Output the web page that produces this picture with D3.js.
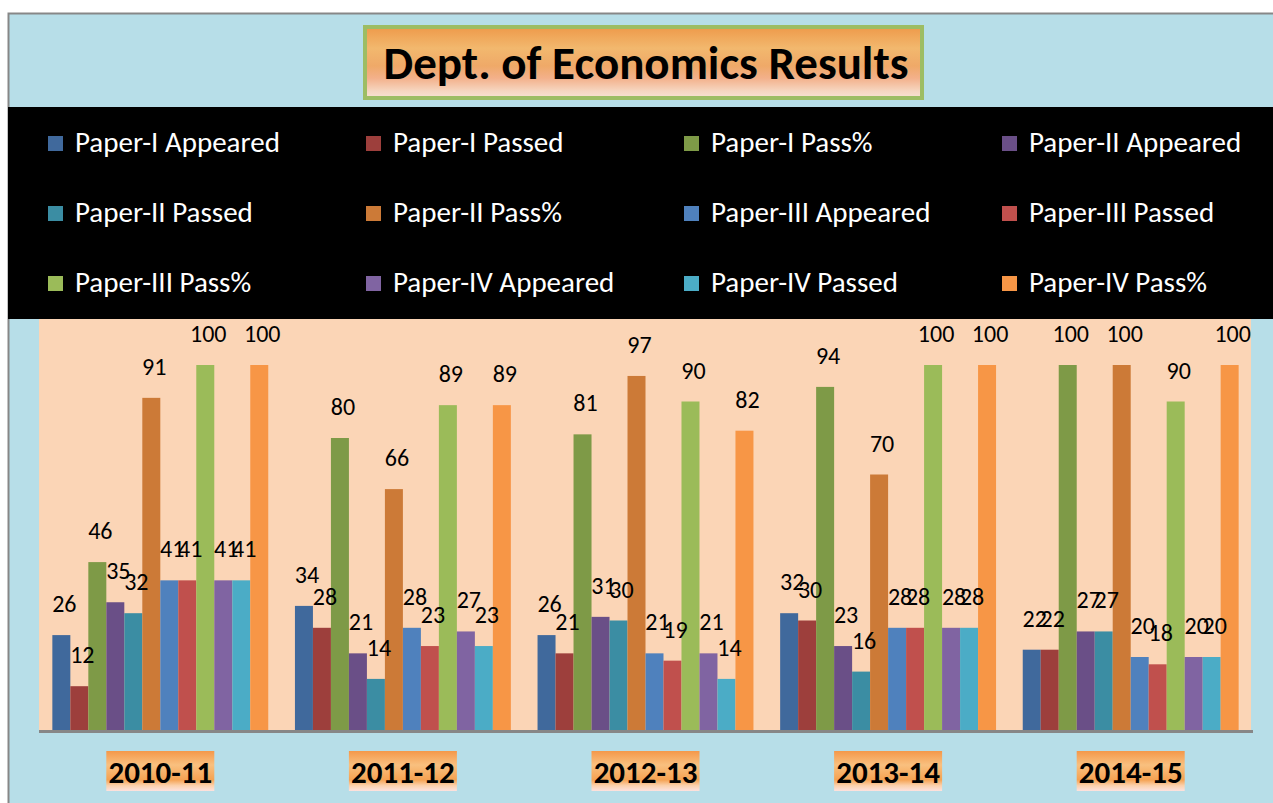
<!DOCTYPE html>
<html>
<head>
<meta charset="utf-8">
<script src="https://cdn.jsdelivr.net/npm/d3@7"></script>
<style>
  html, body { margin: 0; padding: 0; background: #fff; }
  svg { display: block; }
</style>
</head>
<body>
<div id="chart"></div>
<script>
// academic years (x categories)
const years = ['2010-11', '2011-12', '2012-13', '2013-14', '2014-15'];

// series, in legend order
const seriesNames = [
    'Paper-I Appeared', 'Paper-I Passed', 'Paper-I Pass%', 'Paper-II Appeared',
    'Paper-II Passed', 'Paper-II Pass%', 'Paper-III Appeared', 'Paper-III Passed',
    'Paper-III Pass%', 'Paper-IV Appeared', 'Paper-IV Passed', 'Paper-IV Pass%'
];

const paper1Appeared = [26, 34, 26, 32, 22];
const paper1Passed = [12, 28, 21, 30, 22];
const paper1Pct = [46, 80, 81, 94, 100];
const paper2Appeared = [35, 21, 31, 23, 27];
const paper2Passed = [32, 14, 30, 16, 27];
const paper2Pct = [91, 66, 97, 70, 100];
const paper3Appeared = [41, 28, 21, 28, 20];
const paper3Passed = [41, 23, 19, 28, 18];
const paper3Pct = [100, 89, 90, 100, 90];
const paper4Appeared = [41, 27, 21, 28, 20];
const paper4Passed = [41, 23, 14, 28, 20];
const paper4Pct = [100, 89, 82, 100, 100];

const seriesValues = [
    paper1Appeared, paper1Passed, paper1Pct, paper2Appeared,
    paper2Passed, paper2Pct, paper3Appeared, paper3Passed,
    paper3Pct, paper4Appeared, paper4Passed, paper4Pct
];

const colors = [
    '#40699c', '#9d3f3c', '#7e9a47', '#6a4f87', '#3b8da3', '#cc7a37',
    '#4f81bd', '#c0504d', '#9bbb59', '#8064a2', '#4bacc6', '#f79646'
];

const width = 1273;
const height = 803;
const font = 'Carlito, Calibri, Lato, sans-serif';

const svg = d3.select('#chart')
    .append('svg')
    .attr('width', width)
    .attr('height', height);

const defs = svg.append('defs');

/* gradient for the title box */
const titleGrad = defs.append('linearGradient')
    .attr('id', 'titleGrad')
    .attr('x1', 0).attr('y1', 0).attr('x2', 0).attr('y2', 1);
[[0, '#ee9a4a'], [0.3, '#f2b86e'], [0.55, '#efa968'], [0.72, '#f3b08a'], [0.9, '#f6d6c0'], [1, '#f8e2d4']]
    .forEach(s => titleGrad.append('stop').attr('offset', s[0]).attr('stop-color', s[1]));

/* gradient for the category labels */
const catGrad = defs.append('linearGradient')
    .attr('id', 'catGrad')
    .attr('x1', 0).attr('y1', 0).attr('x2', 0).attr('y2', 1);
[[0, '#f4984a'], [0.35, '#f9c07f'], [0.72, '#f5a252'], [0.86, '#fbd0aa'], [1, '#fde2df']]
    .forEach(s => catGrad.append('stop').attr('offset', s[0]).attr('stop-color', s[1]));

/* chart area background + frame */
svg.append('rect')
    .attr('x', 8).attr('y', 13)
    .attr('width', width - 8).attr('height', height - 13)
    .attr('fill', '#b7dee8');
svg.append('path')
    .attr('d', `M8.5,${height}V13.5H${width}`)
    .attr('fill', 'none')
    .attr('stroke', '#878787')
    .attr('stroke-width', 2);

/* plot area */
const plotLeft = 39, plotRight = 1252, plotTop = 319, plotBottom = 730;

svg.append('rect')
    .attr('x', plotLeft).attr('y', plotTop)
    .attr('width', 1251 - plotLeft).attr('height', plotBottom - plotTop)
    .attr('fill', '#fbd5b6');

/* scales */
const x0 = d3.scaleBand()
    .domain(years)
    .range([plotLeft, plotRight])
    .paddingInner(0.11)
    .paddingOuter(0.055);

const x1 = d3.scaleBand()
    .domain(d3.range(seriesNames.length))
    .range([0, x0.bandwidth()]);

const yScale = d3.scaleLinear()
    .domain([0, 100])
    .range([plotBottom, 365]);

/* bars */
const groups = svg.append('g')
    .selectAll('g')
    .data(years)
    .join('g')
    .attr('transform', d => `translate(${x0(d)},0)`);

groups.selectAll('rect')
    .data((d, i) => seriesValues.map((vals, s) => ({ s: s, v: vals[i] })))
    .join('rect')
    .attr('x', d => x1(d.s))
    .attr('y', d => yScale(d.v))
    .attr('width', x1.bandwidth())
    .attr('height', d => yScale(0) - yScale(d.v))
    .attr('fill', d => colors[d.s]);

/* data labels */
groups.selectAll('text')
    .data((d, i) => seriesValues.map((vals, s) => ({ s: s, v: vals[i] })))
    .join('text')
    .attr('x', d => x1(d.s) + x1.bandwidth() / 2 + 3)
    .attr('y', d => yScale(d.v) - 23)
    .attr('text-anchor', 'middle')
    .attr('font-family', font)
    .attr('font-size', 24)
    .attr('fill', '#000')
    .text(d => d.v);

/* x axis line */
svg.append('line')
    .attr('x1', plotLeft).attr('x2', 1253)
    .attr('y1', plotBottom + 1.5).attr('y2', plotBottom + 1.5)
    .attr('stroke', '#878787')
    .attr('stroke-width', 3);

/* category labels with gradient boxes */
const cats = svg.append('g')
    .selectAll('g')
    .data(years)
    .join('g')
    .attr('transform', d => `translate(${x0(d) + x0.bandwidth() / 2},0)`);

cats.append('rect')
    .attr('x', -54).attr('y', 751)
    .attr('width', 108).attr('height', 40)
    .attr('fill', 'url(#catGrad)');

cats.append('text')
    .attr('y', 783)
    .attr('text-anchor', 'middle')
    .attr('font-family', font)
    .attr('font-weight', 'bold')
    .attr('font-size', 31)
    .attr('fill', '#000')
    .text(d => d);

/* legend band */
svg.append('rect')
    .attr('x', 8).attr('y', 107)
    .attr('width', width - 8).attr('height', plotTop - 107)
    .attr('fill', '#000');

const legend = svg.append('g')
    .selectAll('g')
    .data(seriesNames)
    .join('g')
    .attr('transform', (d, i) => `translate(${48 + (i % 4) * 318},${152 + Math.floor(i / 4) * 70})`);

legend.append('rect')
    .attr('x', 0).attr('y', -16)
    .attr('width', 15).attr('height', 15)
    .attr('fill', (d, i) => colors[i]);

legend.append('text')
    .attr('x', 27)
    .attr('font-family', font)
    .attr('font-size', 29)
    .attr('fill', '#fff')
    .text(d => d);

/* title */
svg.append('rect')
    .attr('x', 365).attr('y', 27)
    .attr('width', 557).attr('height', 71)
    .attr('fill', 'url(#titleGrad)')
    .attr('stroke', '#9dbd64')
    .attr('stroke-width', 4);

svg.append('text')
    .attr('x', 646)
    .attr('y', 79)
    .attr('text-anchor', 'middle')
    .attr('font-family', font)
    .attr('font-weight', 'bold')
    .attr('font-size', 47)
    .attr('fill', '#000')
    .text('Dept. of Economics Results');
</script>
</body>
</html>
